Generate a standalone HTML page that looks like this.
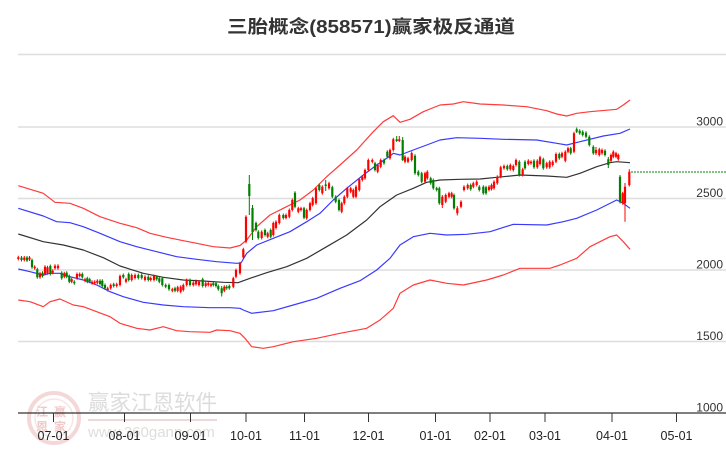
<!DOCTYPE html>
<html><head><meta charset="utf-8">
<style>
html,body{margin:0;padding:0;background:#fff;}
svg{display:block;}
text{font-family:"Liberation Sans","Noto Sans CJK SC",sans-serif;}
</style></head>
<body>
<svg id="c" width="726" height="450" viewBox="0 0 726 450" xmlns="http://www.w3.org/2000/svg">
<rect width="726" height="450" fill="#fff"/>
<!-- watermark -->
<g opacity="0.9">
<circle cx="54" cy="418" r="25" fill="none" stroke="#f3d3d3" stroke-width="4"/>
<circle cx="54" cy="418" r="19" fill="none" stroke="#f7e2e2" stroke-width="1.5"/>
<g font-size="12" fill="#efc4c4" font-family="'Noto Sans CJK SC',sans-serif" font-weight="bold">
<text x="36" y="416">江</text><text x="54" y="416">赢</text>
<text x="36" y="431">恩</text><text x="54" y="431">家</text>
</g>
<text x="88" y="410" font-size="21.5" fill="#d9d9d9" font-family="'Noto Sans CJK SC',sans-serif">赢家江恩软件</text>
<line x1="88" y1="420" x2="217" y2="420" stroke="#ead6d6" stroke-width="2"/>
<text x="88" y="437" font-size="15" fill="#dadada">www.360gann.com</text>
</g>
<!-- grid -->
<g stroke="#dedede" stroke-width="1.4">
<line x1="18" y1="54.5" x2="726" y2="54.5"/>
<line x1="18" y1="127" x2="726" y2="127"/>
<line x1="18" y1="198.5" x2="726" y2="198.5"/>
<line x1="18" y1="270" x2="726" y2="270"/>
<line x1="18" y1="341.5" x2="726" y2="341.5"/>
</g>
<g font-size="12" fill="#333" text-anchor="end">
<text x="723" y="125.5">3000</text>
<text x="723" y="197">2500</text>
<text x="723" y="268.5">2000</text>
<text x="723" y="340">1500</text>
<text x="723" y="411.5">1000</text>
</g>
<!-- axis -->
<line x1="18" y1="413" x2="726" y2="413" stroke="#333" stroke-width="1.3"/>
<g stroke="#333" stroke-width="1">
<line x1="53.5" y1="413" x2="53.5" y2="422"/>
<line x1="124.5" y1="413" x2="124.5" y2="422"/>
<line x1="190.5" y1="413" x2="190.5" y2="422"/>
<line x1="246" y1="413" x2="246" y2="422"/>
<line x1="304.5" y1="413" x2="304.5" y2="422"/>
<line x1="368.5" y1="413" x2="368.5" y2="422"/>
<line x1="435.5" y1="413" x2="435.5" y2="422"/>
<line x1="490" y1="413" x2="490" y2="422"/>
<line x1="545" y1="413" x2="545" y2="422"/>
<line x1="612" y1="413" x2="612" y2="422"/>
<line x1="676.5" y1="413" x2="676.5" y2="422"/>
</g>
<g font-size="12.5" fill="#222" text-anchor="middle">
<text x="53.5" y="440">07-01</text>
<text x="124.5" y="440">08-01</text>
<text x="190.5" y="440">09-01</text>
<text x="246" y="440">10-01</text>
<text x="304.5" y="440">11-01</text>
<text x="368.5" y="440">12-01</text>
<text x="435.5" y="440">01-01</text>
<text x="490" y="440">02-01</text>
<text x="545" y="440">03-01</text>
<text x="612" y="440">04-01</text>
<text x="676.5" y="440">05-01</text>
</g>
<!-- title -->
<text x="227" y="33" font-size="18" font-weight="bold" fill="#333" textLength="288" lengthAdjust="spacingAndGlyphs">三胎概念(858571)赢家极反通道</text>
<!-- channel lines -->
<g fill="none" stroke-width="1.2" stroke-linejoin="round">
<polyline stroke="#ff3b3b" points="18.3,185.7 43.3,193.3 55,202.3 70,203.3 83.3,208.3 100,216.7 120,223.3 136.7,227.7 150,233.3 166.7,237.3 183.3,240.7 196.7,243.3 213.3,246.7 230,248 240,245.5 246.7,240 256.7,226.7 270,215 283.3,208.3 300,200 313.3,190 326.7,176.7 340,165 356.7,150 373.3,131.7 383.3,121.7 393.3,115.7 400,122.3 410,119.3 423.3,111.7 440,105 453.3,104 463.3,101.7 480,104 503.3,105 526.7,106.7 546.7,110.7 556.7,114 566.7,116 576.7,113.3 590,111.7 616.7,109.3 623.3,105 630,100"/>
<polyline stroke="#3a3aff" points="18.3,208.3 43.3,216 56.7,221.7 70,222.7 83.3,226.7 100,233.3 120,241.7 136.7,246.7 156.7,251.7 176.7,256.7 196.7,259.3 216.7,261.7 236.7,263.3 241,263 246.7,253.3 256.7,245 273.3,238.3 290,231.7 306.7,221.7 320,213.3 333.3,200 346.7,188.3 363.3,175 376.7,165 390,156 393.3,153.3 400,155 413.3,150 426.7,145 440,140 456.7,137.7 480,138.3 503.3,139.3 536.7,140 556.7,143.3 566.7,145 580,141.7 603.3,136 620,133.3 630,129"/>
<polyline stroke="#333" points="18.3,234 43.3,241.7 63.3,245 83.3,250 103.3,257.7 120,266 143.3,273.3 163.3,277.3 183.3,280 203.3,281 223.3,282.3 238,282.7 250,278.3 266.7,272.7 286.7,266.7 306.7,258.3 326.7,246.7 346.7,235 366.7,220 380,206.7 396.7,195 413.3,188.3 426.7,182.3 440,180 460,179.3 480,179 503.3,176.7 520,175 546.7,176 566.7,177.3 580,173.3 596.7,166.7 610,162.7 616.7,161.7 630,162.7"/>
<polyline stroke="#3a3aff" points="18.3,269 30,271.7 43.3,275 50,273.3 60,273.3 70,276.7 83.3,280 96.7,285 110,291.7 123.3,296.7 143.3,302.3 163.3,305 183.3,306.7 210,307.7 230,307.7 240,308.3 243.3,310 251.7,313.3 273.3,310.7 293.3,305 316.7,298.3 340,288.3 360,280.7 376.7,270 390,258.3 400,245 413.3,236.7 430,233.3 446.7,235 466.7,234.3 490,231.7 513.3,224.3 546.7,225 563.3,221.7 576.7,218.3 596.7,210 616.7,200 623.3,203.3 630,208.3"/>
<polyline stroke="#ff3b3b" points="18.3,300 30,301.7 43.3,306.7 50,301.7 60,299 73.3,305 83.3,306.7 96.7,311.7 110,316.7 120,323.3 136.7,328.3 150,330 163.3,326.7 176.7,330.7 190,331.7 210,332.3 216.7,330 230,330.7 240,333.3 245,338.3 251.7,346.7 263.3,348.3 273.3,346.7 293.3,341.7 316.7,338.3 340,333.3 366.7,328.3 380,320 393.3,308.3 400,293.3 413.3,285 430,280 446.7,283.3 463.3,285 486.7,280 503.3,275 520,268.3 550,268.3 560,265 576.7,258.3 590,246.7 610,236.7 616.7,235 623.3,241.7 630,249.3"/>
</g>
<line x1="631" y1="172" x2="726" y2="172" stroke="#008000" stroke-width="1" stroke-dasharray="2,1"/>
<g id="candles"></g>
</svg>
<script>
(function(){
var D=[
[18.3,257.3,259,'r'],[21.5,257.5,260,'g'],[24.3,257.5,260,'r'],[27,257.5,260.5,'g'],[29.5,257.5,259.5,'r'],
[32,260,267.3,'g'],[34.7,266.7,268.3,'r'],[37.3,269.3,277.3,'g'],[40,273.3,277.3,'r'],[42.5,272.7,276,'g'],
[45,266.7,274,'r'],[47.5,267.3,273.3,'r'],[50.3,266,274,'g'],[52.7,270.7,272.7,'r'],[55,265.7,268.3,'r'],
[58,265.7,268.3,'r'],[61.7,272.7,278.3,'g'],[64.3,273.3,276.7,'r'],[66.7,272.7,276.7,'g'],[69.3,276,281.7,'g'],
[71.7,279.3,281.7,'r'],[74.3,281.7,283.3,'g'],[77,274,278.3,'r'],[79.7,274,276,'r'],[82.3,274,277.3,'g'],
[85,279.3,280.7,'r'],[87.3,278.3,281.7,'g'],[89.7,279.3,281.7,'g'],[92,281.7,283.3,'r'],[94.7,281.7,283.3,'r'],
[97.3,280.7,282.7,'r'],[100,280.7,284,'g'],[102.3,280.7,286,'g'],[105,285,288.3,'g'],[107.7,288.3,290,'r'],
[110.7,285,288.3,'r'],[113.7,284.3,286,'g'],[116.7,284.3,286,'r'],[120,276,285,'r'],[123.3,275,277.3,'g'],
[126,279.3,281.7,'r'],[128.7,274,280,'g'],[131.7,275,280,'r'],[135,275,278,'r'],[138.3,275,278,'g'],
[141.7,275,278,'g'],[145,276.7,280,'r'],[148.3,276.7,280,'g'],[150.7,278,280,'r'],[154,276,280,'r'],
[156.7,276.7,279.3,'g'],[159.3,278.3,281.7,'g'],[162.3,278.3,285,'g'],[165.7,285,286.7,'g'],[169,285,289.3,'g'],
[172.3,289.3,290.7,'r'],[175,288.3,290.7,'g'],[177.7,287.3,290.7,'r'],[180.7,286.7,291.7,'r'],[183.3,285,290,'r'],
[186.7,280,285,'r'],[190,280,285,'g'],[193.3,282.7,285,'r'],[196,281,284.3,'r'],[199,281.7,285,'r'],
[202.7,279.3,286,'g'],[205.7,283.3,286,'r'],[208.3,283.3,285,'r'],[211,284.3,285.7,'r'],[213.3,283.3,285,'g'],
[216,283.3,286,'g'],[218.3,286,289.3,'g'],[221.7,288.3,293.3,'g',286,296.5],[224.3,286.7,290.7,'r'],[226.7,286.7,288.3,'g'],
[229.3,286,288.3,'g'],[233.3,278.3,286.7,'r'],[236,270,276.7,'r'],[240,263.3,273.3,'r'],[243.3,249.3,257.3,'r'],
[246,216.7,241.7,'r'],[249.3,184,196,'g',175,215],[252.5,208,232,'g',205,240],[256,223,230,'g'],[258.3,231.7,238,'g'],
[261.7,231.7,238,'r'],[265,230,235,'g'],[267.7,233.3,236.7,'r'],[270.7,230,236.7,'g'],[273.3,223,235,'r'],
[276,221.7,228,'r'],[279.3,215,223,'r'],[283.3,215,218,'g'],[286,215,218,'r'],[289.3,210,216.7,'r'],
[292.3,200,210,'r'],[295,192.7,206.7,'g'],[298.3,208.3,211.7,'r'],[301,208.3,210,'r'],[304,208.3,217.7,'g'],
[306.7,210,218.3,'r'],[310,203.3,210,'r'],[312.7,198.3,205,'r'],[316,188.3,203.3,'r'],[319.3,185,190,'g'],
[322.3,186.7,193.3,'r'],[325.7,184.5,186,'g',180,191],[329,183.3,188.3,'r'],[332.3,187.3,196.7,'g'],[335.7,196.7,201.7,'g'],
[339,200,210,'g'],[341.7,203.3,211.7,'r'],[344.3,196.7,203.3,'r'],[347.3,188.3,196.7,'r'],[350.7,188.3,191.7,'r'],
[353.3,190,196.7,'r'],[356,186.7,196.7,'r'],[359.3,179.3,190,'r'],[362.3,176.7,180,'r'],[365,170,178.3,'r'],
[368.3,160,170,'r'],[372.3,160,161.7,'r'],[375,163.3,170,'g'],[377.7,165,171.7,'r'],[380.7,160,166.7,'r'],
[384,160,163.3,'g'],[387.3,151.7,156.7,'g'],[390,150,158.3,'r'],[393.3,139.3,150,'r'],[396.7,139.3,141,'g',136,142],
[399.3,139.3,141,'r',136,142],[402.7,140,160,'g',137,161],[405,156.7,161.7,'r'],[408,158.3,161.7,'r'],[411.7,153,160,'r'],
[415,155.7,173.3,'g'],[418.3,171.7,175,'g'],[421.7,173.3,181.7,'g'],[425,173.3,181.7,'r'],[427.3,171.7,178.3,'r'],
[430.7,178.3,183.3,'g'],[433.3,180,188.3,'g'],[436.7,188.3,190,'g'],[439.3,188.3,203.3,'g'],[442.3,196.7,205,'r',195,208],
[445.7,195,201.7,'r'],[449,193.3,196.7,'r'],[451.7,193.3,196.7,'r'],[454,195,208.3,'g'],[457.3,208.3,213.3,'r',206,215.5],
[461,201.7,206.7,'r'],[464,186.7,190,'r'],[467.7,185,188.3,'r'],[470.7,185,189.3,'g'],[473.3,183.3,186.7,'r'],
[476.7,181.7,185,'r'],[479.3,186.7,190,'g'],[483.3,186.7,193.3,'g'],[486,187.3,193.3,'g'],[489,186.7,190,'r'],
[491.5,185,189,'r'],[494,181.7,188.3,'r'],[497.3,176.7,183.3,'r'],[500.7,167.3,176.7,'r'],[504,166,168.3,'r'],
[507.3,166,169.3,'g'],[510.3,165,169.3,'r'],[513.3,166,170,'r'],[516,160,165,'r'],[519.3,161.7,175,'g'],
[522.7,169.3,175,'r'],[525,161.7,168.3,'g'],[528.3,160.7,164,'r'],[531,161.7,163.3,'r'],[534,160.7,167.3,'g'],
[537.3,160.7,167.3,'r'],[540,157.3,164,'r'],[543.3,159.3,168.3,'g'],[546.7,163.3,167.3,'r'],[549.7,161.7,167.3,'r'],
[552.7,161.7,165,'r'],[556,154,161.7,'r'],[559.3,154,158.3,'g'],[562,153.3,156.7,'r'],[565.3,151.7,160.7,'r'],
[568,148.3,151.7,'r'],[570.7,148.3,153.3,'g'],[574,133.3,151.7,'r'],[576.7,129.3,131.7,'g',127.5,133],[579.7,130.7,133.3,'g'],
[582.7,131.7,135,'g'],[586,132.7,136.7,'g'],[589.3,136.7,145,'g'],[593.3,146.7,153.3,'g'],[596,150,153.3,'r',147,155],
[599.3,149.3,155,'r'],[602,150,153.3,'r'],[605,150.7,155,'g'],[608.3,159.3,165,'g',157,168],[611,155,160.7,'r'],
[613.3,151.7,156.7,'r'],[616,153.3,156.7,'r'],[618.3,155,159.3,'r'],[620,176.7,201.7,'g',175,203.5],[622.7,193.3,203.3,'r'],
[625,186.7,203.3,'r',183,221.7],[629.3,171.7,185,'r',169.3,186.5]
];
var ns="http://www.w3.org/2000/svg",g=document.getElementById('candles');
var wr='',wg='',br='',bg='';
for(var i=0;i<D.length;i++){
 var c=D[i],x=c[0],t=c[1],b=c[2];
 var wt=c.length>4?c[4]:t-1.5,wb=c.length>5?c[5]:b+1.5;
 if(b-t<1.2){b=t+1.2;}
 var w='M'+x.toFixed(1)+' '+wt+'V'+wb;
 var r='M'+(x-1.1).toFixed(1)+' '+t+'H'+(x+1.1).toFixed(1)+'V'+b+'H'+(x-1.1).toFixed(1)+'Z';
 if(c[3]=='r'){wr+=w;br+=r;}else{wg+=w;bg+=r;}
}
function P(d,a){var p=document.createElementNS(ns,'path');p.setAttribute('d',d);for(var k in a)p.setAttribute(k,a[k]);g.appendChild(p);}
P(wr,{stroke:'#ff0000','stroke-width':'1',fill:'none'});
P(wg,{stroke:'#008000','stroke-width':'1',fill:'none'});
P(br,{fill:'#ff0000'});
P(bg,{fill:'#008000'});
})();
</script>
</body></html>
